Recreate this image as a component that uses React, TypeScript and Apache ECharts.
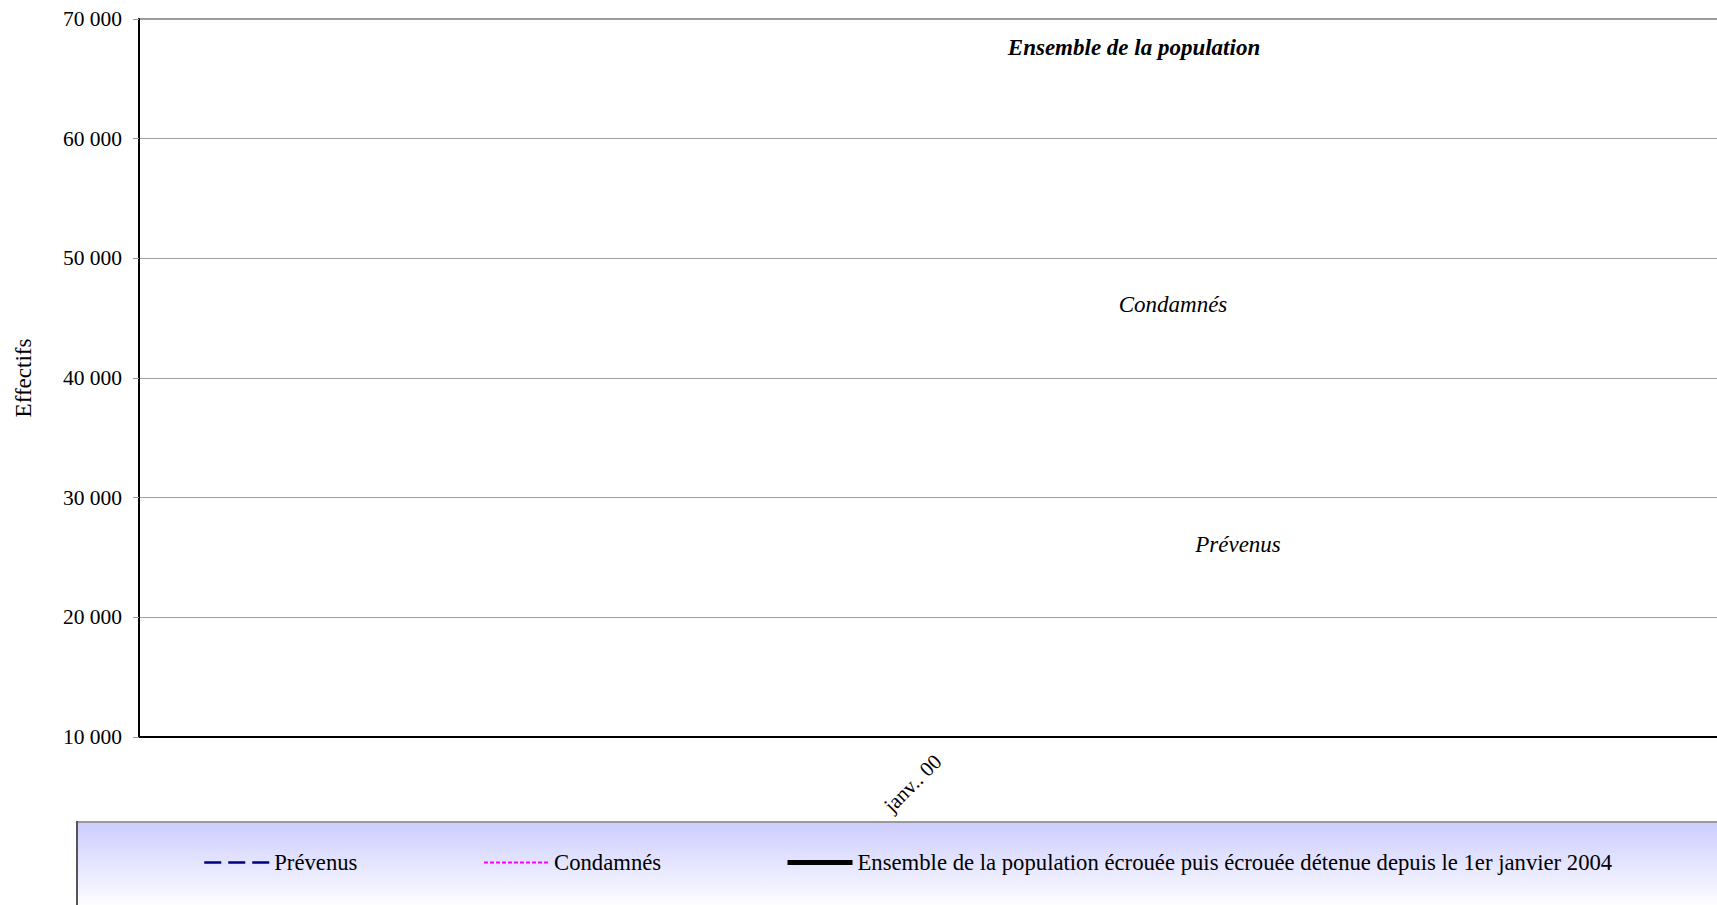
import React, { useEffect, useRef } from "react";
import * as echarts from "echarts";

const categories = ["janv.. 00"];
const prevenus: (number | null)[] = [null];
const condamnes: (number | null)[] = [null];
const ensemble: (number | null)[] = [null];
const yMin = 10000;
const yMax = 70000;
const yStep = 10000;
const seriesNames = [
  "Prévenus",
  "Condamnés",
  "Ensemble de la population écrouée puis écrouée détenue depuis le 1er janvier 2004",
];
const annotations = ["Ensemble de la population", "Condamnés", "Prévenus"];

const FONT = "'Liberation Serif', 'Times New Roman', serif";

const fmt = (v: number) => String(v).replace(/\B(?=(\d{3})+(?!\d))/g, " ");

export default function App() {
  const ref = useRef<HTMLDivElement>(null);
  useEffect(() => {
    if (!ref.current) return;
    const chart = echarts.init(ref.current, undefined, { renderer: "svg" });
    const legendCommon = {
      top: 851,
      padding: 0,
      itemWidth: 65,
      itemHeight: 14,
      itemGap: 5,
      itemStyle: { opacity: 0 },
      textStyle: { fontFamily: FONT, fontSize: 22.7, color: "#000" },
      selectedMode: false,
    };
    chart.setOption({
      animation: false,
      backgroundColor: "#fff",
      grid: {
        left: 139,
        top: 19,
        right: 63,
        bottom: 168,
        show: true,
        borderColor: "#999",
        borderWidth: 2,
        backgroundColor: "transparent",
      },
      xAxis: {
        type: "category",
        data: categories,
        boundaryGap: true,
        axisLine: { lineStyle: { color: "#000", width: 2 } },
        axisTick: { show: false },
        axisLabel: {
          rotate: 45,
          margin: 21,
          fontFamily: FONT,
          fontSize: 21,
          color: "#000",
        },
      },
      yAxis: {
        type: "value",
        min: yMin,
        max: yMax,
        interval: yStep,
        name: "Effectifs",
        nameLocation: "middle",
        nameGap: 104,
        nameTextStyle: { fontFamily: FONT, fontSize: 23, color: "#000" },
        axisLine: { show: true, lineStyle: { color: "#000", width: 2 } },
        axisTick: { show: true, length: 6, lineStyle: { color: "#999" } },
        axisLabel: {
          margin: 17,
          fontFamily: FONT,
          fontSize: 21.5,
          color: "#000",
          formatter: (v: number) => fmt(v),
        },
        splitLine: { lineStyle: { color: "#a0a0a0", width: 1 } },
      },
      legend: [
        {
          ...legendCommon,
          left: 203,
          data: [{ name: seriesNames[0], lineStyle: { width: 2.5, type: [17, 7] } }],
        },
        {
          ...legendCommon,
          left: 483,
          data: [{ name: seriesNames[1], lineStyle: { width: 2, type: [4, 2] } }],
        },
        {
          ...legendCommon,
          left: 785,
          data: [{ name: seriesNames[2], lineStyle: { width: 5 } }],
        },
      ],
      series: [
        {
          name: seriesNames[0],
          type: "line",
          data: prevenus,
          symbol: "none",
          itemStyle: { color: "#000080" },
          lineStyle: { color: "#000080", width: 2.5, type: [17, 7] },
        },
        {
          name: seriesNames[1],
          type: "line",
          data: condamnes,
          symbol: "none",
          itemStyle: { color: "#ff00ff" },
          lineStyle: { color: "#ff00ff", width: 2, type: [4, 2] },
        },
        {
          name: seriesNames[2],
          type: "line",
          data: ensemble,
          symbol: "none",
          itemStyle: { color: "#000" },
          lineStyle: { color: "#000", width: 5 },
        },
      ],
      graphic: [
        {
          type: "rect",
          z: -10,
          silent: true,
          shape: { x: 77, y: 822, width: 1800, height: 86 },
          style: {
            fill: new echarts.graphic.LinearGradient(0, 0, 0, 1, [
              { offset: 0, color: "#ccccff" },
              { offset: 1, color: "#ffffff" },
            ]),
          },
        },
        {
          type: "line",
          z: -9,
          silent: true,
          shape: { x1: 77, y1: 822, x2: 1877, y2: 822 },
          style: { stroke: "#999", lineWidth: 2 },
        },
        {
          type: "line",
          z: -9,
          silent: true,
          shape: { x1: 77, y1: 821, x2: 77, y2: 1000 },
          style: { stroke: "#555", lineWidth: 2 },
        },
        {
          type: "text",
          x: 1134,
          y: 47,
          style: {
            text: annotations[0],
            fontFamily: FONT,
            fontSize: 23,
            fontWeight: "bold",
            fontStyle: "italic",
            fill: "#000",
            textAlign: "center",
            textVerticalAlign: "middle",
          },
        },
        {
          type: "text",
          x: 1173,
          y: 304,
          style: {
            text: annotations[1],
            fontFamily: FONT,
            fontSize: 23,
            fontStyle: "italic",
            fill: "#000",
            textAlign: "center",
            textVerticalAlign: "middle",
          },
        },
        {
          type: "text",
          x: 1238,
          y: 544,
          style: {
            text: annotations[2],
            fontFamily: FONT,
            fontSize: 23,
            fontStyle: "italic",
            fill: "#000",
            textAlign: "center",
            textVerticalAlign: "middle",
          },
        },
      ],
    });
    return () => chart.dispose();
  }, []);
  return (
    <div
      style={{
        position: "fixed",
        left: 0,
        top: 0,
        width: "1717px",
        height: "905px",
        overflow: "hidden",
        background: "#fff",
      }}
    >
      <div ref={ref} style={{ width: "1800px", height: "905px" }} />
    </div>
  );
}
